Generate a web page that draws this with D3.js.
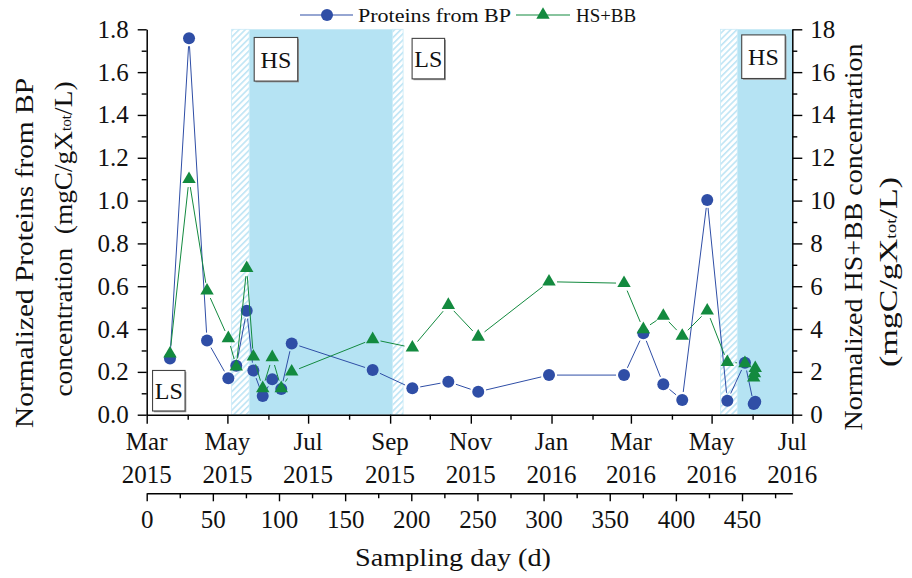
<!DOCTYPE html>
<html><head><meta charset="utf-8">
<script src="https://cdn.jsdelivr.net/npm/d3@7"></script>
<style>
body{margin:0;background:#fff}
svg{display:block}
text{font-family:"Liberation Serif","Times New Roman",serif;fill:#111}
</style>
</head><body><svg id="c" width="912" height="578"></svg>
<script>
// ---------------- data ----------------
const sampleDays = [17.6,32,45.6,61.7,67.7,75.6,80.6,87.7,94.9,101.7,109.6,170.8,200.8,228,250.6,304.1,360.8,375.4,390.5,404.8,423.7,438.9,452.2,458.8,459.4,460];
const proteinsBP = [0.263,1.758,0.346,0.170,0.229,0.486,0.206,0.087,0.165,0.120,0.333,0.209,0.123,0.154,0.107,0.185,0.185,0.380,0.142,0.069,1.003,0.065,0.243,0.050,0.055,0.061];
const hsbb = [2.85,11.0,5.79,3.57,2.24,6.84,2.71,1.23,2.68,1.23,2.01,3.52,3.13,5.12,3.64,6.21,6.14,3.99,4.61,3.68,4.86,2.45,2.40,1.73,1.93,2.17];
const leftTicks = [0,0.2,0.4,0.6,0.8,1.0,1.2,1.4,1.6,1.8];
const leftMinor = [0.1,0.3,0.5,0.7,0.9,1.1,1.3,1.5,1.7];
const rightTicks = [0,2,4,6,8,10,12,14,16,18];
const rightMinor = [1,3,5,7,9,11,13,15,17];
const dayTicks = [0,50,100,150,200,250,300,350,400,450];
const dayMinor = [25,75,125,175,225,275,325,375,425,475];
const monthNames = ["Jan","Feb","Mar","Apr","May","Jun","Jul","Aug","Sep","Oct","Nov","Dec"];
const solidPhases = [[77.5,185.8],[446.4,488]];
const hatchPhases = [[64.2,77.5],[185.8,193.8],[433.8,446.4]];
const phaseLabels = ["LS","HS","LS","HS"];
const phaseLabelDay = [16.7,97.7,212.9,466.2];
const phaseLabelVal = [0.112,1.66,1.663,1.672];
const seriesNames = ["Proteins from BP","HS+BB"];

// ---------------- layout ----------------
const X0 = 146.7, X1 = 792.3, YT = 29.3, YB = 414.7, YDAY = 493.3;
const blue = "#2f4ea6", green = "#138a3f";
const svg = d3.select("#c");
const x = d3.scaleLinear().domain([0,488]).range([X0,X1]);
const xt = d3.scaleUtc().domain([Date.UTC(2015,2,1), Date.UTC(2016,6,1)]).range([X0,X1]);
const yL = d3.scaleLinear().domain([0,1.8]).range([YB,YT]);
const yR = d3.scaleLinear().domain([0,18]).range([YB,YT]);

// pattern
const defs = svg.append("defs");
const pat = defs.append("pattern").attr("id","hatch").attr("patternUnits","userSpaceOnUse")
  .attr("width",4.4).attr("height",4.4).attr("patternTransform","rotate(45)");
pat.append("rect").attr("width",4.4).attr("height",4.4).attr("fill","#ffffff");
pat.append("rect").attr("width",1.6).attr("height",4.4).attr("fill","#bfe5f5");

// shaded phases
svg.append("g").selectAll("rect").data(solidPhases).join("rect")
  .attr("x",d=>x(d[0])).attr("width",d=>x(d[1])-x(d[0]))
  .attr("y",YT).attr("height",YB-YT).attr("fill","#b5e3f3");
svg.append("g").selectAll("rect").data(hatchPhases).join("rect")
  .attr("x",d=>x(d[0])).attr("width",d=>x(d[1])-x(d[0]))
  .attr("y",YT).attr("height",YB-YT).attr("fill","url(#hatch)")
  .attr("stroke","#c9eaf7").attr("stroke-width",0.8);

// phase label boxes
const boxW = {LS:32.5, HS:43.5}, boxH = {LS:40.5, HS:43.6};
const lab = svg.append("g").selectAll("g").data(phaseLabels).join("g")
  .attr("transform",(d,i)=>`translate(${x(phaseLabelDay[i])},${yL(phaseLabelVal[i])})`);
lab.append("rect").attr("x",d=>-boxW[d]/2+1.3).attr("y",d=>-boxH[d]/2+1.3)
  .attr("width",d=>boxW[d]).attr("height",d=>boxH[d]).attr("fill","#9a9a9a");
lab.append("rect").attr("x",d=>-boxW[d]/2).attr("y",d=>-boxH[d]/2)
  .attr("width",d=>boxW[d]).attr("height",d=>boxH[d]).attr("fill","#fff")
  .attr("stroke","#444").attr("stroke-width",1.1);
lab.append("text").attr("text-anchor","middle").attr("y",8.5).attr("font-size",24).text(d=>d);

// axes
function styleAxis(g){
  g.selectAll("path.domain").attr("stroke","#000").attr("stroke-width",1.5);
  g.selectAll(".tick line").attr("stroke","#000").attr("stroke-width",1.4);
  g.selectAll(".tick text").attr("font-size",25).attr("fill","#111")
   .attr("font-family",'"Liberation Serif","Times New Roman",serif');
}
svg.append("g").attr("transform",`translate(${X0},0)`)
  .call(d3.axisLeft(yL).tickValues(leftTicks).tickSize(9).tickSizeOuter(0).tickPadding(9).tickFormat(d3.format(".1f")))
  .call(styleAxis);
svg.append("g").attr("transform",`translate(${X0},0)`)
  .call(d3.axisLeft(yL).tickValues(leftMinor).tickSize(5).tickSizeOuter(0).tickFormat(""))
  .call(styleAxis).call(g=>g.select(".domain").remove());
svg.append("g").attr("transform",`translate(${X1},0)`)
  .call(d3.axisRight(yR).tickValues(rightTicks).tickSize(10).tickSizeOuter(0).tickPadding(8).tickFormat(d3.format("d")))
  .call(styleAxis);
svg.append("g").attr("transform",`translate(${X1},0)`)
  .call(d3.axisRight(yR).tickValues(rightMinor).tickSize(5).tickSizeOuter(0).tickFormat(""))
  .call(styleAxis).call(g=>g.select(".domain").remove());

// date axis
const majorMonths = d3.utcMonth.every(2).range(Date.UTC(2015,2,1), Date.UTC(2016,6,2));
const allMonths = d3.utcMonth.range(Date.UTC(2015,2,1), Date.UTC(2016,6,2));
const minorMonths = allMonths.filter(d=>!majorMonths.some(m=>+m===+d));
svg.append("g").attr("transform",`translate(0,${YB})`)
  .call(d3.axisBottom(xt).tickValues(majorMonths).tickSize(9).tickSizeOuter(0).tickFormat(""))
  .call(styleAxis);
svg.append("g").attr("transform",`translate(0,${YB})`)
  .call(d3.axisBottom(xt).tickValues(minorMonths).tickSize(5).tickSizeOuter(0).tickFormat(""))
  .call(styleAxis).call(g=>g.select(".domain").remove());
const ml = svg.append("g").selectAll("g").data(majorMonths).join("g")
  .attr("transform",d=>`translate(${xt(d)},${YB})`);
ml.append("text").attr("text-anchor","middle").attr("y",35.3).attr("font-size",25)
  .text(d=>monthNames[d.getUTCMonth()]);
ml.append("text").attr("text-anchor","middle").attr("y",68).attr("font-size",25)
  .text(d=>d.getUTCFullYear());

// sampling-day axis
svg.append("g").attr("transform",`translate(0,${YDAY})`)
  .call(d3.axisBottom(x).tickValues(dayTicks).tickSize(8).tickSizeOuter(0).tickPadding(9).tickFormat(d3.format("d")))
  .call(styleAxis);
svg.append("g").attr("transform",`translate(0,${YDAY})`)
  .call(d3.axisBottom(x).tickValues(dayMinor).tickSize(5).tickSizeOuter(0).tickFormat(""))
  .call(styleAxis).call(g=>g.select(".domain").remove());

// axis titles
svg.append("text").attr("x",453).attr("y",566).attr("text-anchor","middle").attr("font-size",25)
  .attr("textLength",196).attr("lengthAdjust","spacingAndGlyphs").text("Sampling day (d)");
function rotTitle(cx,cy,len,parts){
  const t = svg.append("text").attr("transform",`translate(${cx},${cy}) rotate(-90)`)
    .attr("text-anchor","middle").attr("dominant-baseline","central").attr("font-size",25)
    .style("white-space","pre")
    .attr("textLength",len).attr("lengthAdjust","spacingAndGlyphs");
  parts.forEach(p=>{
    const s = t.append("tspan").text(p.t);
    if(p.sub) s.attr("font-size",14).attr("baseline-shift","-28%");
  });
}
rotTitle(24,253,350,[{t:"Normalized Proteins from BP"}]);
rotTitle(63,239,315,[{t:"concentration  (mgC/gX"},{t:"tot",sub:true},{t:"/L)"}]);
rotTitle(853,237,387,[{t:"Normalized HS+BB concentration"}]);
rotTitle(888,272,190,[{t:"(mgC/gX"},{t:"tot",sub:true},{t:"/L)"}]);

// series
const triSym = d3.symbol(d3.symbolTriangle, 78);
function drawSeries(vals, yScale, color, lineW, gap, isTri){
  const pts = sampleDays.map((d,i)=>[x(d), yScale(vals[i])]);
  const segs = [];
  for(let i=0;i<pts.length-1;i++){
    const [ax,ay]=pts[i],[bx,by]=pts[i+1];
    const dx=bx-ax, dy=by-ay, L=Math.hypot(dx,dy);
    if(L>2*gap+1){const ux=dx/L, uy=dy/L; segs.push([ax+ux*gap,ay+uy*gap,bx-ux*gap,by-uy*gap]);}
  }
  const g = svg.append("g");
  g.selectAll("line").data(segs).join("line")
    .attr("x1",d=>d[0]).attr("y1",d=>d[1]).attr("x2",d=>d[2]).attr("y2",d=>d[3])
    .attr("stroke",color).attr("stroke-width",lineW);
  if(isTri){
    g.selectAll("path.m").data(pts).join("path").attr("class","m")
      .attr("transform",d=>`translate(${d[0]},${d[1]})`).attr("d",triSym).attr("fill",color);
  } else {
    g.selectAll("circle").data(pts).join("circle")
      .attr("cx",d=>d[0]).attr("cy",d=>d[1]).attr("r",6).attr("fill",color);
  }
}
drawSeries(proteinsBP, yL, blue, 1, 8, false);
drawSeries(hsbb, yR, green, 1, 8, true);

// legend
const lg = svg.append("g");
lg.append("line").attr("x1",300).attr("x2",353).attr("y1",15).attr("y2",15).attr("stroke",blue).attr("stroke-width",1.2);
lg.append("circle").attr("cx",327).attr("cy",15).attr("r",6).attr("fill",blue);
lg.append("text").attr("x",358).attr("y",21.5).attr("font-size",19)
  .attr("textLength",153).attr("lengthAdjust","spacingAndGlyphs").text(seriesNames[0]);
lg.append("line").attr("x1",516).attr("x2",570).attr("y1",15).attr("y2",15).attr("stroke",green).attr("stroke-width",1.2);
lg.append("path").attr("transform","translate(543,15)").attr("d",triSym).attr("fill",green);
lg.append("text").attr("x",576).attr("y",21.5).attr("font-size",19)
  .attr("textLength",60).attr("lengthAdjust","spacingAndGlyphs").text(seriesNames[1]);
</script>
</body></html>
